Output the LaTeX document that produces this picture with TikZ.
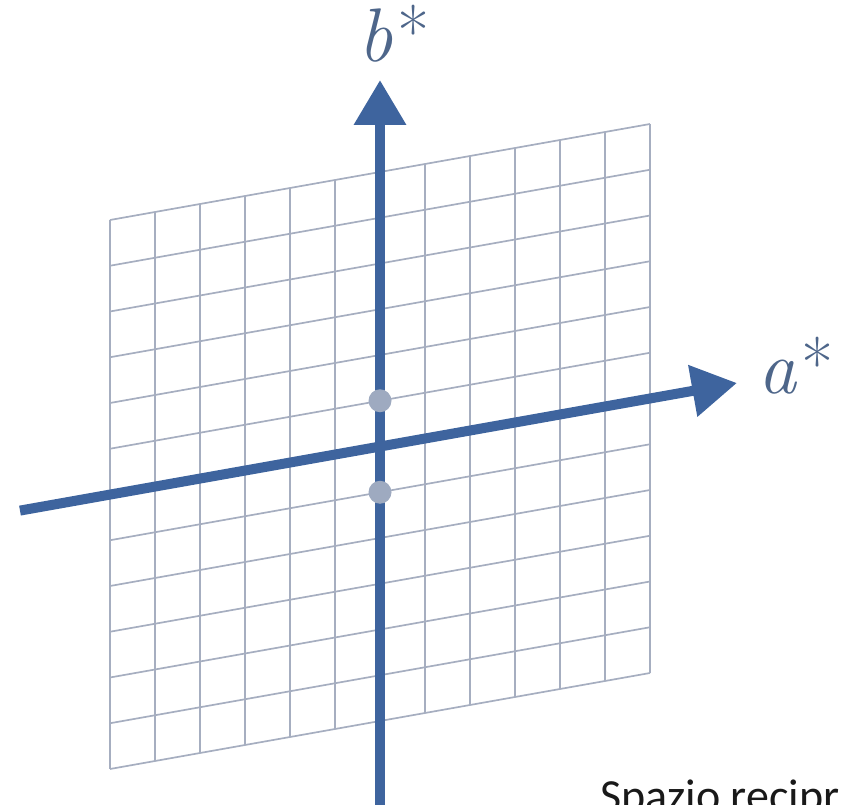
\documentclass[tikz,border=0pt]{standalone}
\usepackage{fontspec}
\newfontfamily\calib{Carlito}
\usetikzlibrary{arrows.meta}
\definecolor{axisblue}{RGB}{62,100,158}
\definecolor{gridgray}{RGB}{166,174,192}
\definecolor{dotgray}{RGB}{158,170,192}
\definecolor{labelblue}{RGB}{78,102,138}
\definecolor{textdark}{RGB}{25,25,25}
\newcommand{\starlabel}[1]{{\rmfamily\fontsize{76}{80}\selectfont\itshape #1}\kern5pt\raisebox{4pt}{\rmfamily\fontsize{70}{74}\selectfont *}}
\begin{document}
\begin{tikzpicture}[x=1pt,y=-1pt,
  gridline/.style={gridgray, line width=1.7pt},
  axisline/.style={axisblue, line width=10pt, -{Triangle[width=50pt,length=45pt]}},
  latdot/.style={circle, fill=dotgray, minimum size=23pt, inner sep=0pt},
  axlabel/.style={text=labelblue, inner sep=0pt}]
\useasboundingbox (0,0) rectangle (844,805);
\clip (0,0) rectangle (844,805);
% grid
\foreach \i in {0,...,12}
  \draw[gridline] ({110+45*\i},{220-8*\i}) -- ({110+45*\i},{769-8*\i});
\foreach \j in {0,...,12}
  \draw[gridline] (110,{220+45.75*\j}) -- (650,{124+45.75*\j});
% axes
\coordinate (bstart) at (380,815);
\coordinate (btip) at (380,80);
\coordinate (astart) at (20,510.6);
\coordinate (atip) at (737,383);
\draw[axisline] (bstart) -- (btip);
\draw[axisline] (astart) -- (atip);
% lattice points
\node[latdot] (d1) at (380,400.75) {};
\node[latdot] (d2) at (380,492.25) {};
% labels
\node[axlabel, anchor=base west] (blab) at (358,62) {\starlabel{b}};
\node[axlabel, anchor=base west] (alab) at (758,393) {\starlabel{a}};
\node[anchor=base west, inner sep=0pt, text=textdark, font=\calib\fontsize{46}{50}\selectfont] (title) at (600,811.6) {Spazio recipr};
\end{tikzpicture}
\end{document}
